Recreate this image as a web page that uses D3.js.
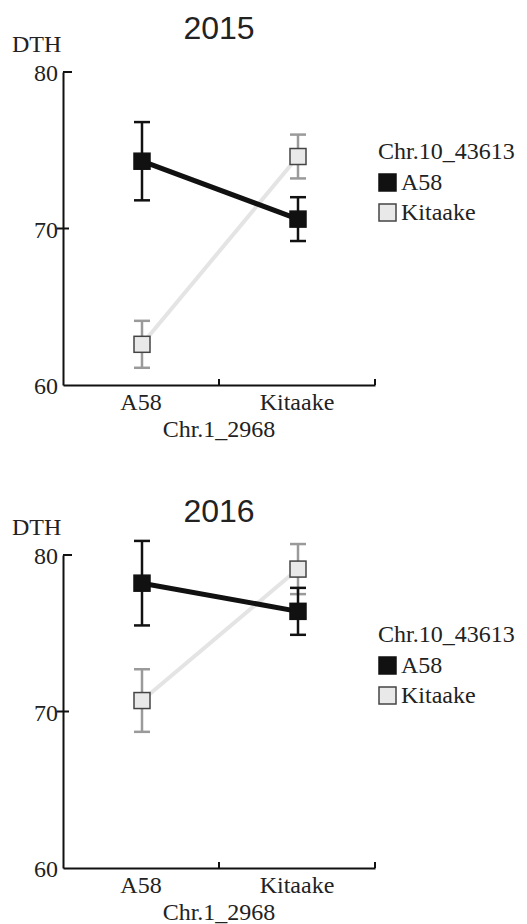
<!DOCTYPE html>
<html><head><meta charset="utf-8">
<script src="https://cdn.jsdelivr.net/npm/d3@7"></script>
<style>
html,body{margin:0;padding:0;background:#fff;}
svg{display:block;}
</style></head>
<body>
<script>
const categories = ["A58", "Kitaake"];
const seriesNames = ["A58", "Kitaake"];
const years = ["2015", "2016"];
const mean2015_A58 = [74.3, 70.6];
const mean2015_Kitaake = [62.6, 74.6];
const err2015_A58 = [2.5, 1.4];
const err2015_Kitaake = [1.5, 1.4];
const mean2016_A58 = [78.2, 76.4];
const mean2016_Kitaake = [70.7, 79.1];
const err2016_A58 = [2.7, 1.5];
const err2016_Kitaake = [2.0, 1.6];
const yTicks = [60, 70, 80];
const legendTitle = "Chr.10_43613";
const xTitle = "Chr.1_2968";
const yTitle = "DTH";

const panels = [
  {year: years[0], top: 0, legendY: 159,
   series: [{name: seriesNames[0], mean: mean2015_A58, err: err2015_A58},
            {name: seriesNames[1], mean: mean2015_Kitaake, err: err2015_Kitaake}]},
  {year: years[1], top: 483, legendY: 642,
   series: [{name: seriesNames[0], mean: mean2016_A58, err: err2016_A58},
            {name: seriesNames[1], mean: mean2016_Kitaake, err: err2016_Kitaake}]}
];

const W = 527, H = 924;
const svg = d3.select("body").append("svg").attr("width", W).attr("height", H);
const serif = "Liberation Serif, Times New Roman, serif";
const sans = "Liberation Sans, Arial, sans-serif";
const FS = "24px";

const style = {
  "A58": {line: "#111", lw: 5, fill: "#111", stroke: "#111", err: "#111"},
  "Kitaake": {line: "#e4e4e4", lw: 4, fill: "#e9e9e9", stroke: "#444", err: "#9a9a9a"}
};

panels.forEach(p => {
  const g = svg.append("g").attr("transform", `translate(0,${p.top})`);
  const x0 = 63, x1 = 375;
  const yTop = 72, yBot = 385;
  const x = d3.scaleBand().domain(categories).range([x0, x1]);
  const y = d3.scaleLinear().domain([60, 80]).range([yBot, yTop]);

  g.append("text").attr("x", 219).attr("y", 39).attr("text-anchor", "middle")
    .attr("font-family", sans).attr("font-size", "32px").attr("fill", "#222").text(p.year);
  g.append("text").attr("x", 12).attr("y", 52)
    .attr("font-family", serif).attr("font-size", FS).attr("fill", "#222").text(yTitle);

  const ya = g.append("g").attr("transform", `translate(${x0},0)`)
    .call(d3.axisLeft(y).tickValues(yTicks).tickSize(0).tickPadding(5).tickFormat(d3.format("d")))
    .attr("font-family", serif).attr("font-size", FS);
  ya.select(".domain").attr("stroke", "#111").attr("stroke-width", 2);
  ya.selectAll("text").attr("fill", "#222").attr("dy", "0.36em");
  g.append("line").attr("x1", x0).attr("x2", x0 + 9).attr("y1", y(80)).attr("y2", y(80)).attr("stroke", "#111").attr("stroke-width", 2);
  g.append("line").attr("x1", x0 - 6).attr("x2", x0 + 6).attr("y1", y(70)).attr("y2", y(70)).attr("stroke", "#111").attr("stroke-width", 2);

  const xa = g.append("g").attr("transform", `translate(0,${yBot})`)
    .call(d3.axisBottom(x).tickSize(0).tickPadding(8))
    .attr("font-family", serif).attr("font-size", FS);
  xa.select(".domain").attr("stroke", "#111").attr("stroke-width", 2);
  xa.selectAll("text").attr("fill", "#222").attr("dy", "0.71em");
  [x0 + x.bandwidth(), x1].forEach(v => {
    g.append("line").attr("x1", v).attr("x2", v).attr("y1", yBot).attr("y2", yBot - 6).attr("stroke", "#111").attr("stroke-width", 2);
  });
  g.append("text").attr("x", 219).attr("y", 437).attr("text-anchor", "middle")
    .attr("font-family", serif).attr("font-size", FS).attr("fill", "#222").text(xTitle);

  const cx = c => x(c) + x.bandwidth() / 2 + 1;
  const line = d3.line().x(d => cx(d.c)).y(d => y(d.v));

  [p.series[1], p.series[0]].forEach(s => {
    const st = style[s.name];
    const pts = categories.map((c, i) => ({c, v: s.mean[i]}));
    g.append("path").datum(pts).attr("d", line).attr("fill", "none")
      .attr("stroke", st.line).attr("stroke-width", st.lw);
  });
  [p.series[1], p.series[0]].forEach(s => {
    const st = style[s.name];
    categories.forEach((c, i) => {
      const xc = cx(c), m = s.mean[i], e = s.err[i];
      g.append("line").attr("x1", xc).attr("x2", xc).attr("y1", y(m - e)).attr("y2", y(m + e))
        .attr("stroke", st.err).attr("stroke-width", 2.5);
      [m - e, m + e].forEach(v => {
        g.append("line").attr("x1", xc - 8).attr("x2", xc + 8).attr("y1", y(v)).attr("y2", y(v))
          .attr("stroke", st.err).attr("stroke-width", 2.5);
      });
    });
    categories.forEach((c, i) => {
      const xc = cx(c), m = s.mean[i];
      g.append("rect").attr("x", xc - 8).attr("y", y(m) - 8).attr("width", 16).attr("height", 16)
        .attr("fill", st.fill).attr("stroke", st.stroke).attr("stroke-width", 1.5);
    });
  });
});

panels.forEach(p => {
  const g = svg.append("g").attr("transform", `translate(0,${p.legendY})`);
  g.append("text").attr("x", 378).attr("y", 0)
    .attr("font-family", serif).attr("font-size", FS).attr("fill", "#222").text(legendTitle);
  seriesNames.forEach((n, i) => {
    const st = style[n];
    const yy = 31 + i * 30;
    g.append("rect").attr("x", 379).attr("y", yy - 16).attr("width", 17).attr("height", 17)
      .attr("fill", st.fill).attr("stroke", st.stroke).attr("stroke-width", 1.5);
    g.append("text").attr("x", 401).attr("y", yy)
      .attr("font-family", serif).attr("font-size", FS).attr("fill", "#222").text(n);
  });
});
</script>
</body></html>
